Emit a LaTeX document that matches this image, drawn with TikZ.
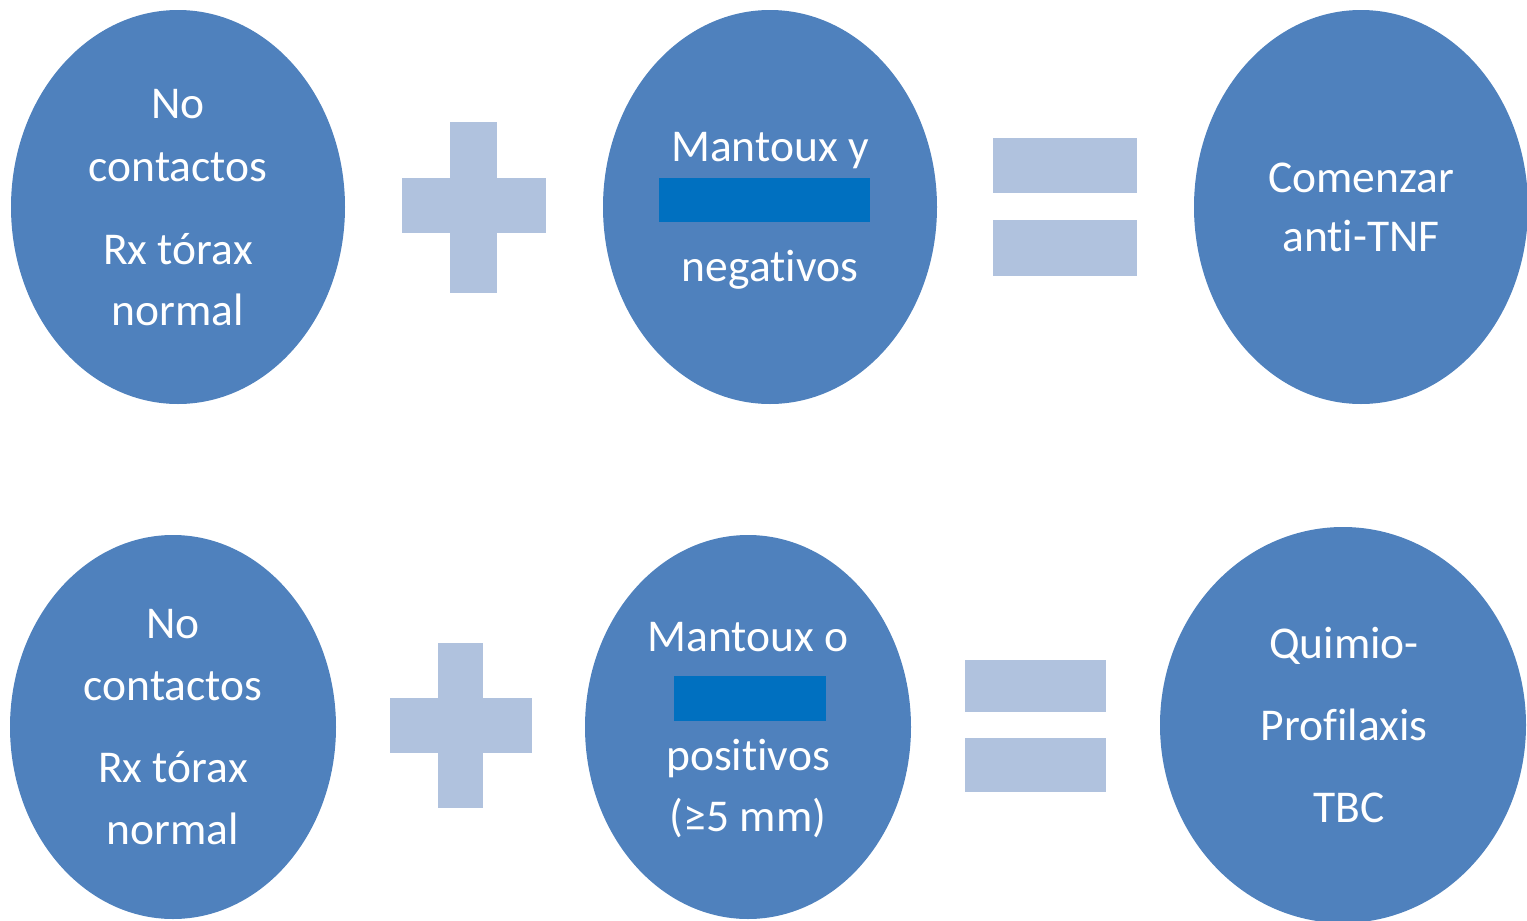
\documentclass[tikz,border=0pt]{standalone}
\usepackage{fontspec}
\setmainfont{Carlito}[Ligatures=NoCommon]
\usetikzlibrary{shapes.geometric}
\definecolor{ellblue}{HTML}{4F81BD}
\definecolor{oplight}{HTML}{B0C2DE}
\definecolor{redact}{HTML}{0070C0}
\begin{document}
\begin{tikzpicture}[x=1pt,y=-1pt,
  oval/.style n args={2}{ellipse, fill=ellblue, draw=none, inner sep=0pt, minimum width=#1pt, minimum height=#2pt},
  txt/.style={text=white, font=\fontsize{45.5}{54}\selectfont, anchor=base, inner sep=0pt},
  opbar/.style={fill=oplight, draw=none},
  hidebar/.style={fill=redact, draw=none}]
\useasboundingbox (0,0) rectangle (1527,921);

% top row ellipses
\node[oval={334}{394}] (e1) at (178,207) {};
\node[oval={334}{394}] (e2) at (770,207) {};
\node[oval={334}{394}] (e3) at (1361,207) {};
% bottom row ellipses
\node[oval={326}{384}] (e4) at (173,727) {};
\node[oval={326}{384}] (e5) at (748,727) {};
\node[oval={366}{396}] (e6) at (1343,725) {};

% plus / equals top
\fill[opbar] (450,122) rectangle (497,293);
\fill[opbar] (402,178) rectangle (546,233);
\fill[opbar] (993,138) rectangle (1137,193);
\fill[opbar] (993,220) rectangle (1137,276);
% plus / equals bottom
\fill[opbar] (438,643) rectangle (483,808);
\fill[opbar] (390,698) rectangle (532,753);
\fill[opbar] (965,660) rectangle (1106,712);
\fill[opbar] (965,738) rectangle (1106,792);

% texts top-left
\node[txt] (t1a) at (178,118) {No};
\node[txt] (t1b) at (178,181) {contactos};
\node[txt] (t1c) at (178,264) {Rx tórax};
\node[txt] (t1d) at (178,325) {normal};
% top-middle
\node[txt] (t2a) at (770,161) {Mantoux y};
\node[txt] (t2c) at (770,281) {negativos};
\fill[hidebar] (659,178) rectangle (870,222);
% top-right
\node[txt] (t3a) at (1361,192) {Comenzar};
\node[txt] (t3b) at (1361,251) {anti-TNF};

% bottom-left
\node[txt] (t4a) at (173,638) {No};
\node[txt] (t4b) at (173,700) {contactos};
\node[txt] (t4c) at (173,782) {Rx tórax};
\node[txt] (t4d) at (173,844) {normal};
% bottom-middle
\node[txt] (t5a) at (748,651) {Mantoux o};
\node[txt] (t5c) at (748,770) {positivos};
\node[txt] (t5d) at (748,831) {(≥5 mm)};
\fill[hidebar] (674,676) rectangle (826,721);
% bottom-right
\node[txt] (t6a) at (1344,658) {Quimio-};
\node[txt] (t6b) at (1344,740) {Profilaxis};
\node[txt] (t6c) at (1349,822) {TBC};
\end{tikzpicture}
\end{document}
